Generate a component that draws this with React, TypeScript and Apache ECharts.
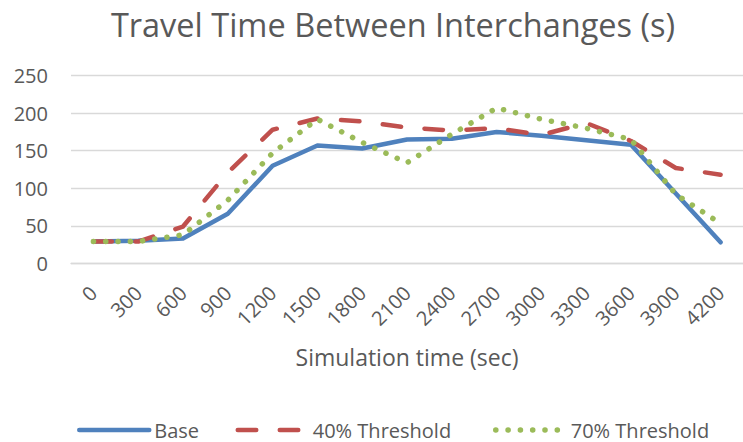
import React, { useEffect, useRef } from "react";
import * as echarts from "echarts";

const categories = ["0", "300", "600", "900", "1200", "1500", "1800", "2100", "2400", "2700", "3000", "3300", "3600", "3900", "4200"];
const baseValues = [29, 30, 33, 66, 130, 157, 153, 165, 166, 175, 170, 164, 158, 93, 28];
const threshold40Values = [29, 29, 49, 121, 178, 193, 189, 181, 177, 180, 171, 187, 163, 127, 118];
const threshold70Values = [29, 29, 38, 84, 147, 192, 161, 134, 172, 207, 192, 180, 165, 92, 53];
const seriesNames = ["Base", "40% Threshold", "70% Threshold"];

const FONT = "'Open Sans', sans-serif";
const TEXT = "#595959";
const BLUE = "#4F81BD";
const RED = "#C0504D";
const GREEN = "#9BBB59";
const DASH = [18.5, 23.5];
const DOT = [0.1, 12.2];

export default function App() {
  const ref = useRef<HTMLDivElement>(null);
  useEffect(() => {
    if (!ref.current) return;
    const chart = echarts.init(ref.current, undefined, { renderer: "svg" });
    const legendCommon = {
      top: 415,
      itemWidth: 70,
      itemHeight: 14,
      textStyle: { color: TEXT, fontSize: 20, fontFamily: FONT },
      selectedMode: false,
      itemStyle: { opacity: 0, color: "transparent", borderWidth: 0 },
    };
    chart.setOption({
      animation: false,
      backgroundColor: "#ffffff",
      title: {
        text: "Travel Time Between Interchanges (s)",
        left: 388,
        textAlign: "center",
        top: 3,
        textStyle: { color: TEXT, fontSize: 32.5, fontWeight: "normal", fontFamily: FONT },
      },
      legend: [
        {
          ...legendCommon,
          left: 72,
          data: [seriesNames[0]],
          lineStyle: { color: BLUE, width: 4.5, type: "solid", cap: "round" },
        },
        {
          ...legendCommon,
          left: 230.5,
          data: [seriesNames[1]],
          lineStyle: { color: RED, width: 4.5, type: DASH, cap: "round" },
        },
        {
          ...legendCommon,
          left: 488,
          data: [seriesNames[2]],
          lineStyle: { color: GREEN, width: 5.5, type: DOT, cap: "round" },
        },
      ],
      grid: { left: 71, top: 75.7, width: 682.5, height: 187.6, containLabel: false },
      xAxis: {
        type: "category",
        data: categories,
        boundaryGap: true,
        name: "Simulation time (sec)",
        nameLocation: "middle",
        nameGap: 82,
        nameTextStyle: { color: TEXT, fontSize: 23, fontFamily: FONT },
        axisLine: { lineStyle: { color: "#D9D9D9", width: 1.3 } },
        axisTick: { show: false },
        axisLabel: { interval: 0, rotate: 45, margin: 26, color: TEXT, fontSize: 20, fontFamily: FONT },
      },
      yAxis: {
        type: "value",
        min: 0,
        max: 250,
        interval: 50,
        axisLine: { show: false },
        axisTick: { show: false },
        axisLabel: { margin: 23, color: TEXT, fontSize: 20, fontFamily: FONT },
        splitLine: { lineStyle: { color: "#D9D9D9", width: 1.3 } },
      },
      series: [
        {
          name: seriesNames[0],
          type: "line",
          data: baseValues,
          symbol: "none",
          itemStyle: { color: BLUE },
          lineStyle: { color: BLUE, width: 4.5, cap: "round", join: "round" },
        },
        {
          name: seriesNames[1],
          type: "line",
          data: threshold40Values,
          symbol: "none",
          itemStyle: { color: RED },
          lineStyle: { color: RED, width: 4.5, type: DASH, cap: "round", join: "round" },
        },
        {
          name: seriesNames[2],
          type: "line",
          data: threshold70Values,
          symbol: "none",
          itemStyle: { color: GREEN },
          lineStyle: { color: GREEN, width: 5.5, type: DOT, cap: "round", join: "round" },
        },
      ],
    });
    return () => chart.dispose();
  }, []);
  return <div ref={ref} style={{ position: "fixed", left: 0, top: 0, width: 743, height: 442 }} />;
}
